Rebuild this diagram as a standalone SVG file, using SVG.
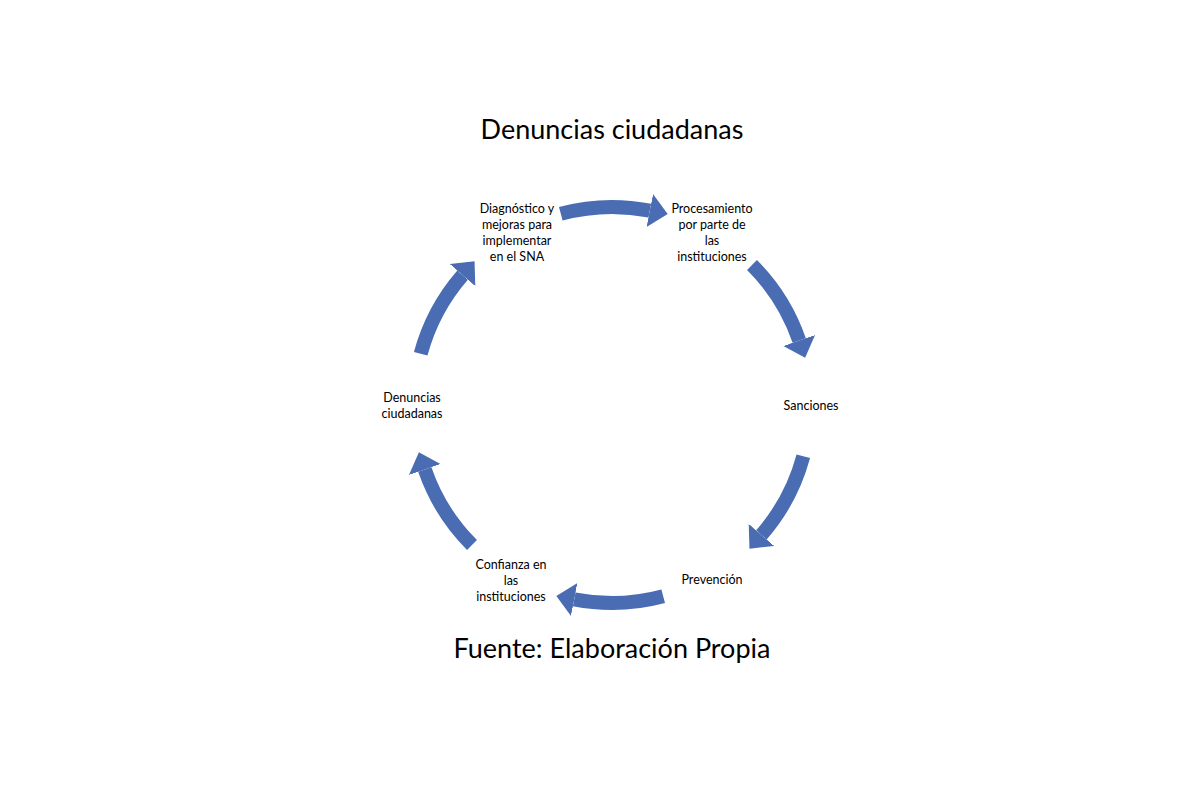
<svg xmlns="http://www.w3.org/2000/svg" width="1200" height="800" viewBox="0 0 1200 800">
<style>
.t{font-family:Lato,"Open Sans",sans-serif;font-size:12.5px;fill:#000;text-anchor:middle}
.h{font-family:Lato,"Open Sans",sans-serif;font-size:27px;fill:#000;text-anchor:middle}
.a{fill:none;stroke:#4a6cb3;stroke-width:14;marker-end:url(#hd)}
</style>
<defs><marker id="hd" markerUnits="strokeWidth" markerWidth="2" markerHeight="2.4" refX="0" refY="1.2" orient="auto" viewBox="0 0 2 2.4"><path d="M0,0 L1.3,1.2 L0,2.4 Z" fill="#4a6cb3"/></marker></defs>
<rect width="1200" height="800" fill="#fff"/>
<text class="h" x="612" y="139">Denuncias ciudadanas</text>
<text class="h" x="612" y="658">Fuente: Elaboración Propia</text>
<g id="connectors">
<path class="a" d="M560.8,213.7 A198,198 0 0 1 649.8,210.6"/>
<path class="a" d="M752,265 A198,198 0 0 1 799.2,340.5"/>
<path class="a" d="M803.3,456.2 A198,198 0 0 1 761.4,534.9"/>
<path class="a" d="M663.2,596.3 A198,198 0 0 1 574.2,599.4"/>
<path class="a" d="M472,545 A198,198 0 0 1 424.8,469.5"/>
<path class="a" d="M420.7,353.8 A198,198 0 0 1 462.6,275.1"/>
</g>
<g id="n1"><text class="t" x="517" y="213">Diagnóstico y</text><text class="t" x="517" y="229">mejoras para</text><text class="t" x="517" y="245">implementar</text><text class="t" x="517" y="261">en el SNA</text></g>
<g id="n2"><text class="t" x="712" y="213">Procesamiento</text><text class="t" x="712" y="229">por parte de</text><text class="t" x="712" y="245">las</text><text class="t" x="712" y="261">instituciones</text></g>
<g id="n3"><text class="t" x="811" y="410">Sanciones</text></g>
<g id="n4"><text class="t" x="712" y="584">Prevención</text></g>
<g id="n5"><text class="t" x="511" y="569">Confianza en</text><text class="t" x="511" y="585">las</text><text class="t" x="511" y="601">instituciones</text></g>
<g id="n6"><text class="t" x="412" y="402">Denuncias</text><text class="t" x="412" y="418">ciudadanas</text></g>
</svg>
